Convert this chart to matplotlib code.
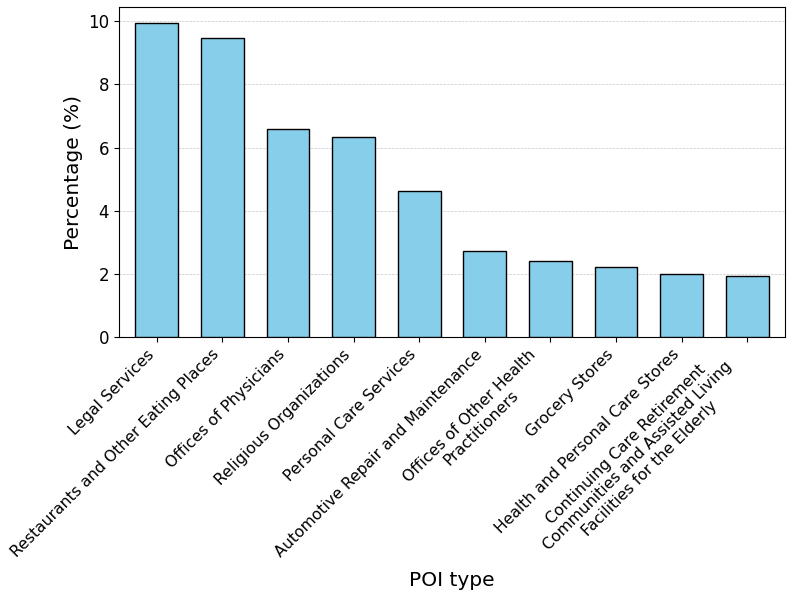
import numpy as np
import matplotlib
matplotlib.use("Agg")
import matplotlib.pyplot as plt

# POI categories and their share (%)
poi_types = [
    "Legal Services",
    "Restaurants and Other Eating Places",
    "Offices of Physicians",
    "Religious Organizations",
    "Personal Care Services",
    "Automotive Repair and Maintenance",
    "Offices of Other Health\nPractitioners",
    "Grocery Stores",
    "Health and Personal Care Stores",
    "Continuing Care Retirement\nCommunities and Assisted Living\nFacilities for the Elderly",
]
percentages = [9.95, 9.48, 6.58, 6.35, 4.61, 2.72, 2.40, 2.22, 1.99, 1.92]

fig, ax = plt.subplots(figsize=(7.93, 5.97), dpi=100)
x = np.arange(len(poi_types))
ax.bar(x, percentages, width=0.65, color="skyblue", edgecolor="black", zorder=3)
ax.set_xlim(-0.575, len(poi_types) - 1 + 0.575)

ax.set_xticks(x)
ax.set_xticklabels(poi_types, rotation=45, ha="right", fontsize=11.25)
for lbl in ax.get_xticklabels():
    lbl.set_multialignment("center")
ax.tick_params(axis="y", labelsize=12)
ax.set_xlabel("POI type", fontsize=14.5)
ax.set_ylabel("Percentage (%)", fontsize=14.5)
ax.grid(axis="y", linestyle="--", linewidth=0.5, alpha=0.7, zorder=0)

fig.subplots_adjust(left=0.150, right=0.990, top=0.988, bottom=0.4355)
fig.savefig("out.png", dpi=100)
